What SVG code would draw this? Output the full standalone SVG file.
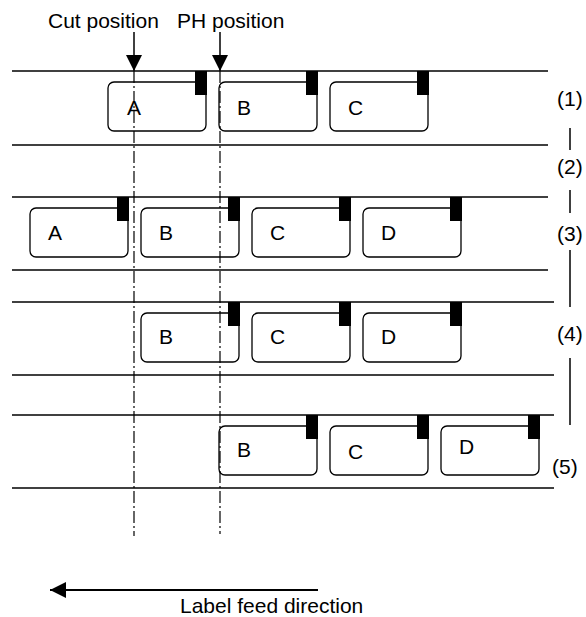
<svg xmlns="http://www.w3.org/2000/svg" width="586" height="617" viewBox="0 0 586 617">
<style>
text{font-family:"Liberation Sans",Arial,sans-serif;font-size:21px;fill:#000}
.rail{stroke:#000;stroke-width:1.3;fill:none}
.box{fill:#fff;stroke:#000;stroke-width:1.3}
.tab{fill:#000}
.dd{stroke:#000;stroke-width:1.2;fill:none;stroke-dasharray:12 3 2 3}
.ln{stroke:#000;stroke-width:1.5;fill:none}
</style>
<defs>
<marker id="ah" viewBox="0 0 16 16" refX="16" refY="8" markerWidth="16" markerHeight="16" markerUnits="userSpaceOnUse" orient="auto">
<path d="M0,0 L16,8 L0,16 Z" fill="#000"/>
</marker>
</defs>
<rect width="586" height="617" fill="#fff"/>
<g id="rails">
<line class="rail" x1="12" y1="71" x2="548" y2="71"/>
<line class="rail" x1="12" y1="145" x2="548" y2="145"/>
<line class="rail" x1="12" y1="197" x2="548" y2="197"/>
<line class="rail" x1="12" y1="270" x2="548" y2="270"/>
<line class="rail" x1="12" y1="302" x2="554" y2="302"/>
<line class="rail" x1="12" y1="375" x2="554" y2="375"/>
<line class="rail" x1="12" y1="415" x2="554" y2="415"/>
<line class="rail" x1="12" y1="488" x2="554" y2="488"/>
</g>
<g id="row1">
<g id="r1A"><rect class="box" x="108" y="82" width="98" height="49" rx="6"/><rect class="tab" x="195" y="71" width="12" height="24"/><text x="127" y="115">A</text></g>
<g id="r1B"><rect class="box" x="219" y="82" width="98" height="49" rx="6"/><rect class="tab" x="306" y="71" width="12" height="24"/><text x="237" y="115">B</text></g>
<g id="r1C"><rect class="box" x="330" y="82" width="98" height="49" rx="6"/><rect class="tab" x="417" y="71" width="12" height="24"/><text x="348" y="115">C</text></g>
</g>
<g id="row2">
<g id="r2A"><rect class="box" x="30" y="208" width="98" height="49" rx="6"/><rect class="tab" x="117" y="197" width="12" height="24"/><text x="48" y="240">A</text></g>
<g id="r2B"><rect class="box" x="141" y="208" width="98" height="49" rx="6"/><rect class="tab" x="228" y="197" width="12" height="24"/><text x="159" y="240">B</text></g>
<g id="r2C"><rect class="box" x="252" y="208" width="98" height="49" rx="6"/><rect class="tab" x="339" y="197" width="12" height="24"/><text x="270" y="240">C</text></g>
<g id="r2D"><rect class="box" x="363" y="208" width="98" height="49" rx="6"/><rect class="tab" x="450" y="197" width="12" height="24"/><text x="381" y="240">D</text></g>
</g>
<g id="row3">
<g id="r3B"><rect class="box" x="141" y="313" width="98" height="49" rx="6"/><rect class="tab" x="228" y="302" width="12" height="24"/><text x="159" y="344">B</text></g>
<g id="r3C"><rect class="box" x="252" y="313" width="98" height="49" rx="6"/><rect class="tab" x="339" y="302" width="12" height="24"/><text x="270" y="344">C</text></g>
<g id="r3D"><rect class="box" x="363" y="313" width="98" height="49" rx="6"/><rect class="tab" x="450" y="302" width="12" height="24"/><text x="381" y="344">D</text></g>
</g>
<g id="row4">
<g id="r4B"><rect class="box" x="219" y="426" width="98" height="49" rx="6"/><rect class="tab" x="306" y="415" width="12" height="24"/><text x="237" y="457">B</text></g>
<g id="r4C"><rect class="box" x="330" y="426" width="98" height="49" rx="6"/><rect class="tab" x="417" y="415" width="12" height="24"/><text x="348" y="459">C</text></g>
<g id="r4D"><rect class="box" x="441" y="426" width="98" height="49" rx="6"/><rect class="tab" x="528" y="415" width="12" height="24"/><text x="459" y="454">D</text></g>
</g>
<g id="steps">
<text x="557" y="106">(1)</text>
<text x="557" y="174">(2)</text>
<text x="557" y="241">(3)</text>
<text x="557" y="341">(4)</text>
<text x="552" y="474">(5)</text>
</g>
<g id="headers">
<text x="48" y="28">Cut position</text>
<text x="177" y="28">PH position</text>
<text x="180" y="613">Label feed direction</text>
</g>
<g id="connectors">
<line class="ln" x1="134" y1="32" x2="134" y2="71" marker-end="url(#ah)"/>
<line class="ln" x1="220" y1="32" x2="220" y2="71" marker-end="url(#ah)"/>
<line class="dd" x1="134" y1="71" x2="134" y2="536"/>
<line class="dd" x1="220" y1="71" x2="220" y2="534"/>
<line class="ln" x1="570" y1="128" x2="570" y2="150"/>
<line class="ln" x1="570" y1="190" x2="570" y2="213"/>
<line class="ln" x1="570" y1="250" x2="570" y2="307"/>
<line class="ln" x1="570" y1="358" x2="570" y2="425"/>
<line stroke="#000" stroke-width="2" x1="318" y1="590" x2="50" y2="590" marker-end="url(#ah)"/>
</g>
</svg>
